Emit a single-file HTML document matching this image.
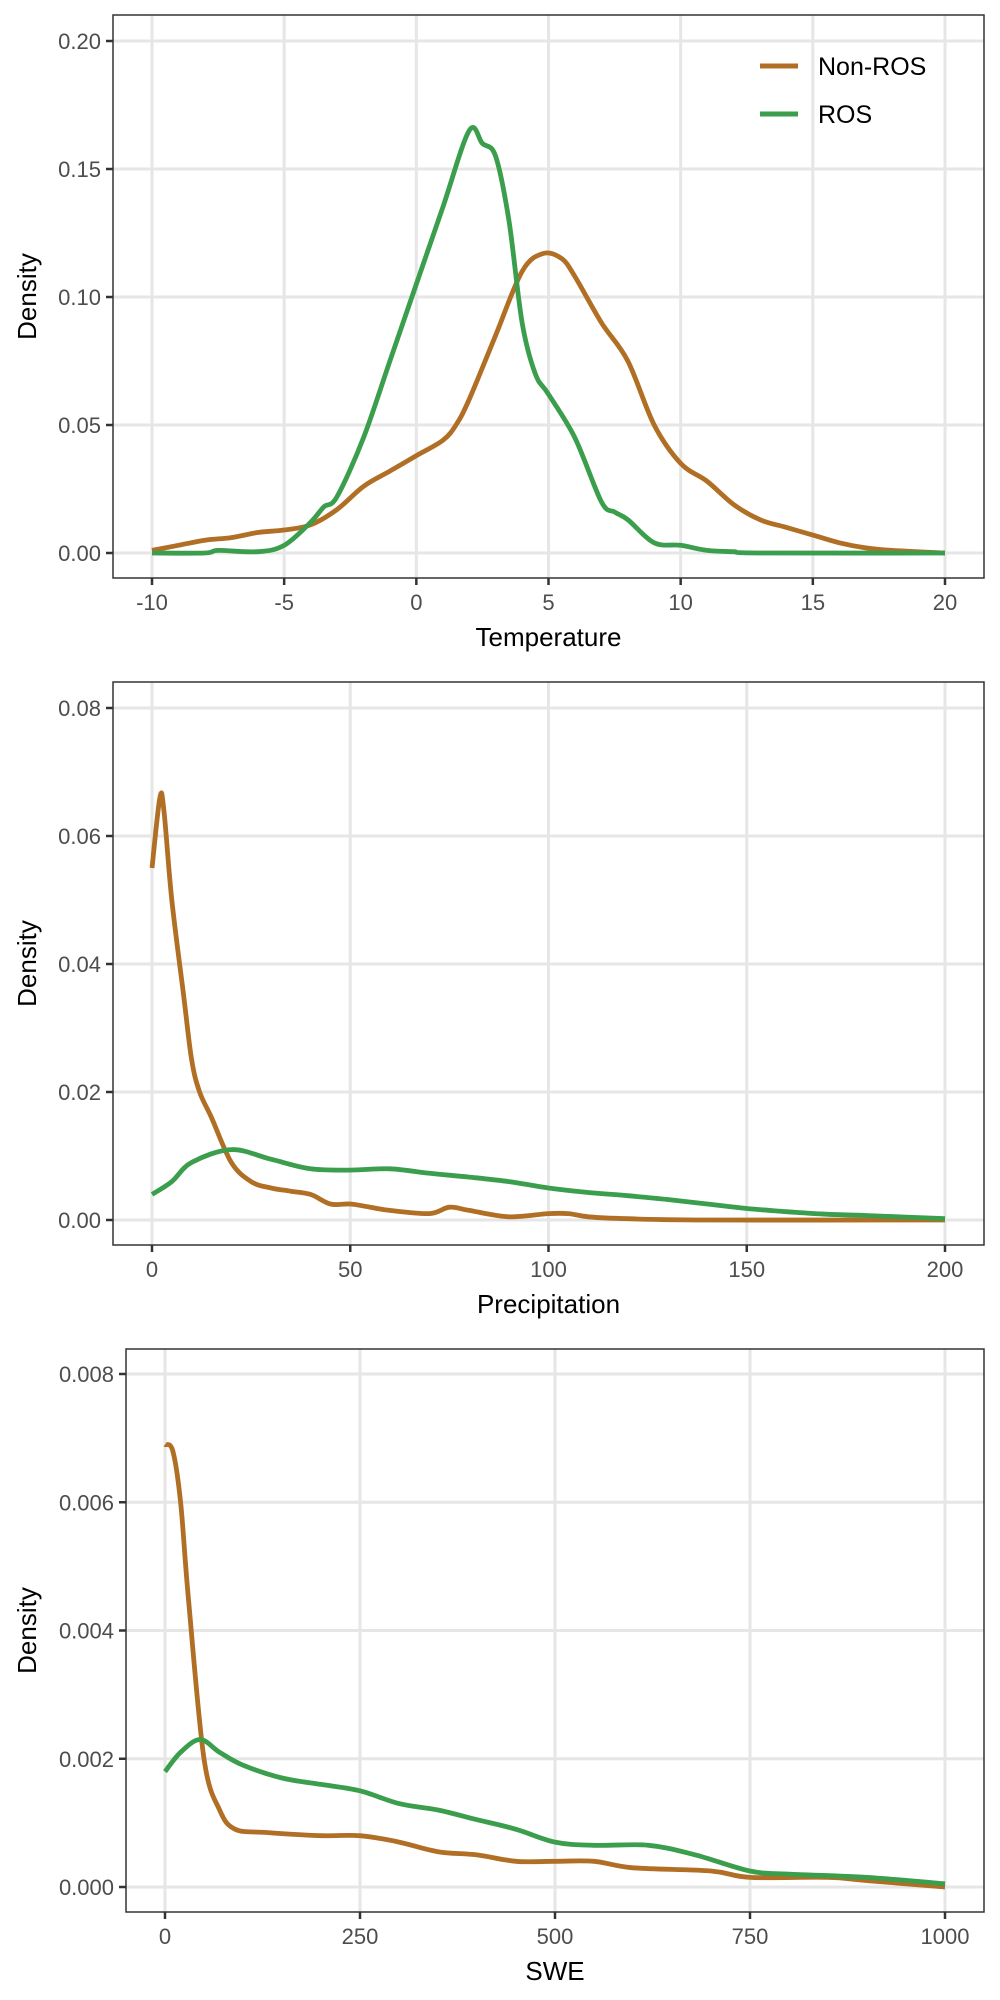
<!DOCTYPE html>
<html><head><meta charset="utf-8"><style>
html,body{margin:0;padding:0;background:#fff}
svg{display:block}
text{font-family:"Liberation Sans",Arial,sans-serif}
</style></head><body>
<svg id="fig" width="1000" height="2000" viewBox="0 0 1000 2000" xmlns="http://www.w3.org/2000/svg"></svg>
<script>
// ---- Panel 1: Temperature ----
const tempNonX = [-10,-9,-8,-7,-6,-5,-4,-3,-2,-1,0,1,1.5,2,3,4,4.8,5.5,6,7,8,9,10,11,12,13,14,15,16,17,18,20];
const tempNonY = [0.001,0.003,0.005,0.006,0.008,0.009,0.011,0.017,0.026,0.032,0.038,0.044,0.05,0.06,0.085,0.11,0.117,0.115,0.108,0.09,0.075,0.05,0.035,0.028,0.019,0.013,0.01,0.007,0.004,0.002,0.001,0];
const tempRosX = [-10,-8,-7.5,-6,-5,-4,-3.5,-3,-2,-1,0,1,2,2.5,3,3.5,4,4.5,5,6,7,7.5,8,9,10,11,12,13,20];
const tempRosY = [0,0,0.001,0.0005,0.003,0.012,0.018,0.022,0.045,0.075,0.105,0.135,0.165,0.16,0.155,0.13,0.09,0.07,0.062,0.045,0.02,0.016,0.013,0.004,0.003,0.001,0.0005,0,0];
const tempXTicks = [-10,-5,0,5,10,15,20];
const tempYTicks = [0,0.05,0.1,0.15,0.2];
const tempYLabels = ["0.00","0.05","0.10","0.15","0.20"];
// ---- Panel 2: Precipitation ----
const precNonX = [0,2,3,5,8,10,12,15,20,25,30,35,40,45,50,55,60,70,75,80,90,100,105,110,120,140,200];
const precNonY = [0.055,0.066,0.064,0.05,0.035,0.025,0.02,0.016,0.009,0.006,0.005,0.0045,0.004,0.0025,0.0025,0.002,0.0015,0.001,0.002,0.0015,0.0005,0.001,0.001,0.0005,0.0002,0,0];
const precRosX = [0,5,10,20,30,40,50,60,70,80,90,100,110,120,130,140,150,160,170,180,200];
const precRosY = [0.004,0.006,0.009,0.011,0.0095,0.008,0.0078,0.008,0.0073,0.0067,0.006,0.005,0.0043,0.0038,0.0032,0.0025,0.0018,0.0013,0.0009,0.0007,0.0002];
const precXTicks = [0,50,100,150,200];
const precYTicks = [0,0.02,0.04,0.06,0.08];
const precYLabels = ["0.00","0.02","0.04","0.06","0.08"];
// ---- Panel 3: SWE ----
const sweNonX = [0,10,20,30,50,70,90,130,200,250,300,350,400,450,500,550,600,700,750,850,900,1000];
const sweNonY = [0.0069,0.0068,0.006,0.0045,0.002,0.0012,0.0009,0.00085,0.0008,0.0008,0.0007,0.00055,0.0005,0.0004,0.0004,0.0004,0.0003,0.00025,0.00015,0.00015,0.0001,0];
const sweRosX = [0,20,45,70,100,150,200,250,300,350,400,450,500,550,620,680,750,800,900,1000];
const sweRosY = [0.0018,0.0021,0.0023,0.0021,0.0019,0.0017,0.0016,0.0015,0.0013,0.0012,0.00105,0.0009,0.0007,0.00065,0.00065,0.0005,0.00025,0.0002,0.00015,0.00005];
const sweXTicks = [0,250,500,750,1000];
const sweYTicks = [0,0.002,0.004,0.006,0.008];
const sweYLabels = ["0.000","0.002","0.004","0.006","0.008"];

const NS="http://www.w3.org/2000/svg";
const svg=document.getElementById('fig');
const BROWN="#B06F25", GREEN="#3A9E4C";
function mk(tag,attrs,parent){const e=document.createElementNS(NS,tag);for(const k in attrs)e.setAttribute(k,attrs[k]);(parent||svg).appendChild(e);return e;}
function smooth(pts){
  let d="M"+pts[0][0].toFixed(1)+","+pts[0][1].toFixed(1);
  for(let i=0;i<pts.length-1;i++){
    const p0=pts[Math.max(i-1,0)],p1=pts[i],p2=pts[i+1],p3=pts[Math.min(i+2,pts.length-1)];
    const c1=[p1[0]+(p2[0]-p0[0])/6,p1[1]+(p2[1]-p0[1])/6];
    const c2=[p2[0]-(p3[0]-p1[0])/6,p2[1]-(p3[1]-p1[1])/6];
    d+=" C"+c1[0].toFixed(1)+","+c1[1].toFixed(1)+" "+c2[0].toFixed(1)+","+c2[1].toFixed(1)+" "+p2[0].toFixed(1)+","+p2[1].toFixed(1);
  }
  return d;
}
function panel(cfg){
  const g=mk('g',{});
  
  
  const {L,R,T,B,x0,x1,xmin,xmax,y0,y1,ymax}=cfg;
  const sx=v=>x0+(v-xmin)/(xmax-xmin)*(x1-x0);
  const sy=v=>y0-(v/ymax)*(y0-y1);
  mk('rect',{x:L,y:T,width:R-L,height:B-T,fill:"#fff"},g);
  cfg.yt.forEach((v,i)=>{
    const gl=mk('line',{x1:L,x2:R,y1:sy(v),y2:sy(v),stroke:"#e6e6e6","stroke-width":3},g);
    
    
    mk('line',{x1:L-7,x2:L,y1:sy(v),y2:sy(v),stroke:"#333","stroke-width":2.5},g);
    const t=mk('text',{x:L-12,y:sy(v)+8,"text-anchor":"end","font-size":22,fill:"#4d4d4d"},g);
    t.textContent=cfg.yl[i];
    
    
  });
  cfg.xt.forEach(v=>{
    const gl=mk('line',{y1:T,y2:B,x1:sx(v),x2:sx(v),stroke:"#e6e6e6","stroke-width":3},g);
    
    
    mk('line',{y1:B,y2:B+7,x1:sx(v),x2:sx(v),stroke:"#333","stroke-width":2.5},g);
    const t=mk('text',{x:sx(v),y:B+32,"text-anchor":"middle","font-size":22,fill:"#4d4d4d"},g);
    t.textContent=String(v);
    
    
  });
  const series=[[cfg.nx,cfg.ny,BROWN,'non-ros-line'],[cfg.rx,cfg.ry,GREEN,'ros-line']];
  series.forEach(s=>{
    const pts=s[0].map((x,i)=>[sx(x),sy(s[1][i])]);
    const p=mk('path',{d:smooth(pts),fill:"none",stroke:s[2],"stroke-width":4.8,"stroke-linejoin":"round"},g);
    
    
  });
  mk('rect',{x:L,y:T,width:R-L,height:B-T,fill:"none",stroke:"#333","stroke-width":1.5},g);
  const xt=mk('text',{x:(L+R)/2,y:B+68,"text-anchor":"middle","font-size":26,fill:"#000"},g);
  xt.textContent=cfg.xtitle;
  
  
  const cy=(T+B)/2;
  const yt=mk('text',{x:0,y:0,transform:`translate(36,${cy}) rotate(-90)`,"text-anchor":"middle","font-size":26,fill:"#000"},g);
  yt.textContent="Density";
  
  
  return g;
}
panel({name:'temperature-panel',L:113,R:984,T:15,B:578,x0:152,x1:945,xmin:-10,xmax:20,y0:553,y1:41,ymax:0.2,
  xt:tempXTicks,yt:tempYTicks,yl:tempYLabels,nx:tempNonX,ny:tempNonY,rx:tempRosX,ry:tempRosY,xtitle:"Temperature"});
panel({name:'precipitation-panel',L:113,R:984,T:682,B:1245,x0:152,x1:945,xmin:0,xmax:200,y0:1220,y1:708,ymax:0.08,
  xt:precXTicks,yt:precYTicks,yl:precYLabels,nx:precNonX,ny:precNonY,rx:precRosX,ry:precRosY,xtitle:"Precipitation"});
panel({name:'swe-panel',L:126,R:984,T:1349,B:1912,x0:165,x1:945,xmin:0,xmax:1000,y0:1887,y1:1374,ymax:0.008,
  xt:sweXTicks,yt:sweYTicks,yl:sweYLabels,nx:sweNonX,ny:sweNonY,rx:sweRosX,ry:sweRosY,xtitle:"SWE"});
// legend
const lg=mk('g',{});


[["Non-ROS",BROWN,66],["ROS",GREEN,114]].forEach(e=>{
  const it=mk('g',{},lg);
  
  
  mk('line',{x1:760,x2:798,y1:e[2],y2:e[2],stroke:e[1],"stroke-width":5},it);
  const t=mk('text',{x:818,y:e[2]+9,"font-size":25,fill:"#000"},it);
  t.textContent=e[0];
});
</script>
</body></html>
